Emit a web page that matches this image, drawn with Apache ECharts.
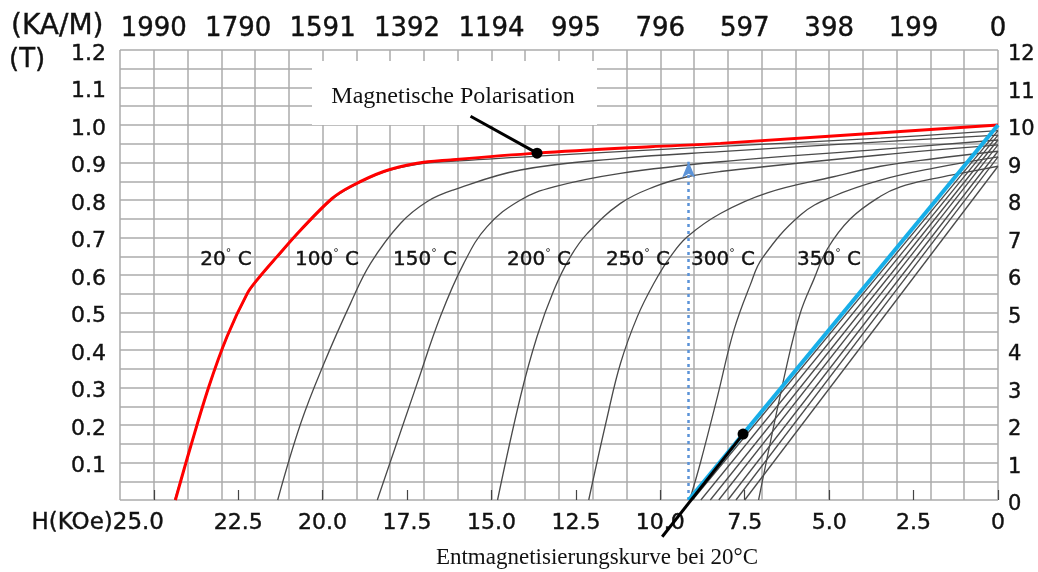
<!DOCTYPE html>
<html>
<head>
<meta charset="utf-8">
<script src="https://cdn.jsdelivr.net/npm/echarts@6/dist/echarts.min.js"></script>
<style>
  html, body { margin: 0; padding: 0; background: #ffffff; }
  #chart { width: 1038px; height: 572px; }
</style>
</head>
<body>
<div id="chart"></div>
<script>
// Field strength ticks (kOe) and matching kA/m values for the top scale
const hTicks = [0, 2.5, 5, 7.5, 10, 12.5, 15, 17.5, 20, 22.5, 25];
const kamLabels = ['0', '199', '398', '597', '796', '995', '1194', '1392', '1591', '1790', '1990'];

// Temperatures of the curve family
const temps = ['20', '100', '150', '200', '250', '300', '350'];

// Polarisation J(H) at 20 °C, highlighted curve: [H in kOe, J in T]
const jRed20 = [
  [0, 1.0], [8.22, 0.951], [10.3, 0.942], [13.65, 0.925], [16.21, 0.907], [17.2, 0.898],
  [18.19, 0.876], [19.17, 0.836], [19.72, 0.804], [20.65, 0.72], [21.35, 0.649],
  [21.94, 0.587], [22.23, 0.551], [22.83, 0.436], [23.37, 0.302], [23.91, 0.142], [24.36, 0]
];
// Polarisation J(H) per temperature (grey family)
const j20 = [
  [0, 0.985], [3.48, 0.965], [8.22, 0.943], [13.65, 0.917], [16.21, 0.903], [17.2, 0.895],
  [18.19, 0.874], [19.17, 0.834], [19.72, 0.802], [20.65, 0.718], [21.35, 0.647],
  [21.94, 0.585], [22.23, 0.549], [22.83, 0.434], [23.37, 0.3], [23.91, 0.14], [24.38, 0]
];
const j100 = [
  [0, 0.973], [3.48, 0.955], [8.22, 0.929], [11.18, 0.911], [14.14, 0.88], [16.12, 0.827],
  [16.9, 0.796], [17.69, 0.738], [18.58, 0.631], [19.17, 0.525], [19.96, 0.364], [20.65, 0.204], [21.33, 0]
];
const j150 = [
  [0, 0.96], [3.48, 0.935], [8.22, 0.902], [11.18, 0.871], [13.15, 0.835], [14.14, 0.8],
  [15.13, 0.729], [15.82, 0.631], [16.51, 0.49], [17.2, 0.311], [18.38, 0]
];
const j200 = [
  [0, 0.947], [3.48, 0.92], [8.22, 0.876], [9.2, 0.862], [10.19, 0.835], [11.18, 0.791],
  [12.16, 0.711], [12.66, 0.649], [13.15, 0.56], [13.65, 0.436], [14.14, 0.276], [14.82, 0]
];
const j250 = [
  [0, 0.93], [1.9, 0.91], [3.48, 0.89], [4.87, 0.862], [6.83, 0.819], [8.22, 0.764],
  [9.2, 0.702], [9.7, 0.649], [10.19, 0.578], [10.68, 0.489], [11.18, 0.364], [11.57, 0.222], [12.12, 0]
];
const j300 = [
  [0, 0.915], [1.9, 0.885], [3.48, 0.853], [4.87, 0.81], [5.85, 0.76], [6.98, 0.645],
  [7.33, 0.575], [7.82, 0.453], [8.31, 0.275], [8.81, 0.1], [9.13, 0]
];
const j350 = [
  [0, 0.89], [1.0, 0.873], [1.91, 0.857], [2.89, 0.835], [3.48, 0.81], [4.37, 0.75],
  [5.05, 0.67], [5.46, 0.587], [5.85, 0.5], [6.24, 0.365], [7.09, 0]
];

// Demagnetisation lines B(H): remanence (T) and coercivity (kOe) per temperature
const bRemanence = [0.985, 0.973, 0.96, 0.947, 0.93, 0.915, 0.89];
const bCoercivity = [9.05, 8.8, 8.52, 8.27, 8.0, 7.76, 7.5];
// Highlighted 20 °C demagnetisation line
const blueRemanence = 1.0;
const blueCoercivity = 9.16;

// Annotation anchors
const polarisationTail = [15.62, 1.0235];
const polarisationPointIndex = 3;        // point on jRed20
const demagTail = [9.944, -0.098];
const demagPointH = 7.55;
const guideTop = 0.902;

const jCurves = [j20, j100, j150, j200, j250, j300, j350];

const fmtH = v => (v === 0 ? '0' : v.toFixed(1));

const chart = echarts.init(document.getElementById('chart'), null, { renderer: 'canvas' });

const gridLine = { show: true, lineStyle: { color: '#ababab', width: 1.5 } };
const sans = 'DejaVu Sans';
const ink = '#111111';
// slight outline gives the labels the heavier stroke of the printed scale
const heft = { textBorderColor: ink, textBorderWidth: 0.4 };

const series = [];

jCurves.forEach((curve, i) => {
  series.push({
    name: 'J ' + temps[i] + ' °C', type: 'line', xAxisIndex: 0, yAxisIndex: 0,
    data: curve, smooth: 0.4, showSymbol: false, symbol: 'none',
    lineStyle: { color: '#4a4a4a', width: 1.3 }, z: 3, silent: true
  });
});

bRemanence.forEach((br, i) => {
  series.push({
    name: 'B ' + temps[i] + ' °C', type: 'line', xAxisIndex: 0, yAxisIndex: 0,
    data: [[bCoercivity[i], 0], [0, br]], showSymbol: false, symbol: 'none',
    lineStyle: { color: '#4a4a4a', width: 1.3 }, z: 3, silent: true
  });
});

series.push({
  name: 'J 20 °C', type: 'line', xAxisIndex: 0, yAxisIndex: 0,
  data: jRed20, smooth: 0.35, showSymbol: false, symbol: 'none',
  lineStyle: { color: '#ff0000', width: 3 }, z: 5, silent: true
});

series.push({
  name: 'B 20 °C', type: 'line', xAxisIndex: 0, yAxisIndex: 0,
  data: [[blueCoercivity, 0], [0, blueRemanence]], showSymbol: false, symbol: 'none',
  lineStyle: { color: '#17aee8', width: 4 }, z: 5, silent: true,
  markLine: {
    silent: true, symbol: ['none', 'arrow'], symbolSize: [10, 16],
    label: { show: false },
    lineStyle: { color: '#5b93d8', width: 2.5, type: [3, 4] },
    data: [[{ coord: [blueCoercivity, 0] }, { coord: [blueCoercivity, guideTop] }]]
  }
});

// Pointer lines of the two callouts, ending in a dot on their curve
const redPoint = jRed20[polarisationPointIndex];
const demagPoint = [demagPointH, blueRemanence * (1 - demagPointH / blueCoercivity)];
[[polarisationTail, redPoint], [demagTail, demagPoint]].forEach((pair, k) => {
  series.push({
    name: 'callout ' + k, type: 'line', xAxisIndex: 0, yAxisIndex: 0,
    data: pair, clip: false, showSymbol: true,
    symbol: (v, p) => (p.dataIndex === 1 ? 'circle' : 'none'), symbolSize: 11,
    itemStyle: { color: '#000000' },
    lineStyle: { color: '#000000', width: 3 }, z: 8, silent: true
  });
});

const tempLabelPos = [226, 327, 425, 539, 638, 723, 829];

chart.setOption({
  animation: false,
  backgroundColor: '#ffffff',
  grid: { left: 120, right: 40, top: 50, bottom: 72, containLabel: false },
  xAxis: [
    { type: 'value', min: 0, max: 26, interval: 1, inverse: true, position: 'bottom',
      axisLine: { show: false }, axisTick: { show: false }, axisLabel: { show: false },
      splitLine: gridLine },
    { type: 'value', min: 0, max: 26, interval: 2.5, inverse: true, position: 'bottom',
      axisLine: { show: false }, splitLine: { show: false },
      axisTick: { show: true, inside: true, length: 10, lineStyle: { color: '#444', width: 1.2 } },
      axisLabel: Object.assign({ show: true, margin: 12, fontFamily: sans, fontSize: 22, color: ink,
        showMaxLabel: false,
        formatter: v => (v >= 25 ? '' : fmtH(v)) }, heft) },
    { type: 'value', min: 0, max: 26, interval: 2.5, inverse: true, position: 'top',
      axisLine: { show: false }, splitLine: { show: false }, axisTick: { show: false },
      axisLabel: Object.assign({ show: true, margin: 8, fontFamily: sans, fontSize: 26, color: ink,
        showMaxLabel: false,
        formatter: v => { const i = hTicks.indexOf(v); return i < 0 ? '' : kamLabels[i]; } }, heft) }
  ],
  yAxis: [
    { type: 'value', min: 0, max: 1.2, interval: 0.05, position: 'left',
      axisLine: { show: false }, axisTick: { show: false }, axisLabel: { show: false },
      splitLine: gridLine },
    { type: 'value', min: 0, max: 1.2, interval: 0.1, position: 'left',
      axisLine: { show: false }, axisTick: { show: false }, splitLine: { show: false },
      axisLabel: Object.assign({ show: true, margin: 14, fontFamily: sans, fontSize: 22, color: ink,
        verticalAlign: 'top', lineHeight: 8,
        formatter: v => (v > 0.001 ? v.toFixed(1) : '') }, heft) },
    { type: 'value', min: 0, max: 12, interval: 1, position: 'right',
      axisLine: { show: false }, axisTick: { show: false }, splitLine: { show: false },
      axisLabel: Object.assign({ show: true, margin: 10, fontFamily: sans, fontSize: 21, color: ink,
        verticalAlign: 'top', lineHeight: 10,
        formatter: v => String(v) }, heft) }
  ],
  series: series,
  graphic: [
    { type: 'text', x: 11, y: 27, z: 10,
      style: { text: '(KA/M)', font: '28px "DejaVu Sans"', fill: ink, verticalAlign: 'middle',
        stroke: ink, lineWidth: 0.4 } },
    { type: 'text', x: 9, y: 60, z: 10,
      style: { text: '(T)', font: '26px "DejaVu Sans"', fill: ink, verticalAlign: 'middle',
        stroke: ink, lineWidth: 0.4 } },
    { type: 'text', x: 164, y: 523, z: 10,
      style: { text: 'H(KOe)' + fmtH(hTicks[hTicks.length - 1]), font: '23px "DejaVu Sans"',
        fill: ink, align: 'right', verticalAlign: 'middle', stroke: ink, lineWidth: 0.4 } },
    { type: 'rect', z: 1, shape: { x: 312, y: 61, width: 285, height: 64 },
      style: { fill: '#ffffff' } },
    { type: 'text', x: 453, y: 97, z: 10,
      style: { text: 'Magnetische Polarisation', font: '24px "Liberation Serif"', fill: '#111',
        align: 'center', verticalAlign: 'middle' } },
    { type: 'text', x: 597, y: 558, z: 10,
      style: { text: 'Entmagnetisierungskurve bei 20°C', font: '23px "Liberation Serif"', fill: '#111',
        align: 'center', verticalAlign: 'middle' } }
  ].concat(temps.map((t, i) => ({
    type: 'text', x: tempLabelPos[i], y: 260, z: 10,
    style: {
      text: '{n|' + t + '}{d|°}{n| C}', align: 'center', verticalAlign: 'middle',
      rich: {
        n: { fontFamily: sans, fontSize: 20, fill: ink, lineHeight: 24, stroke: ink, lineWidth: 0.4 },
        d: { fontFamily: sans, fontSize: 11, fill: ink, lineHeight: 24, verticalAlign: 'top' }
      }
    }
  })))
});
</script>
</body>
</html>
